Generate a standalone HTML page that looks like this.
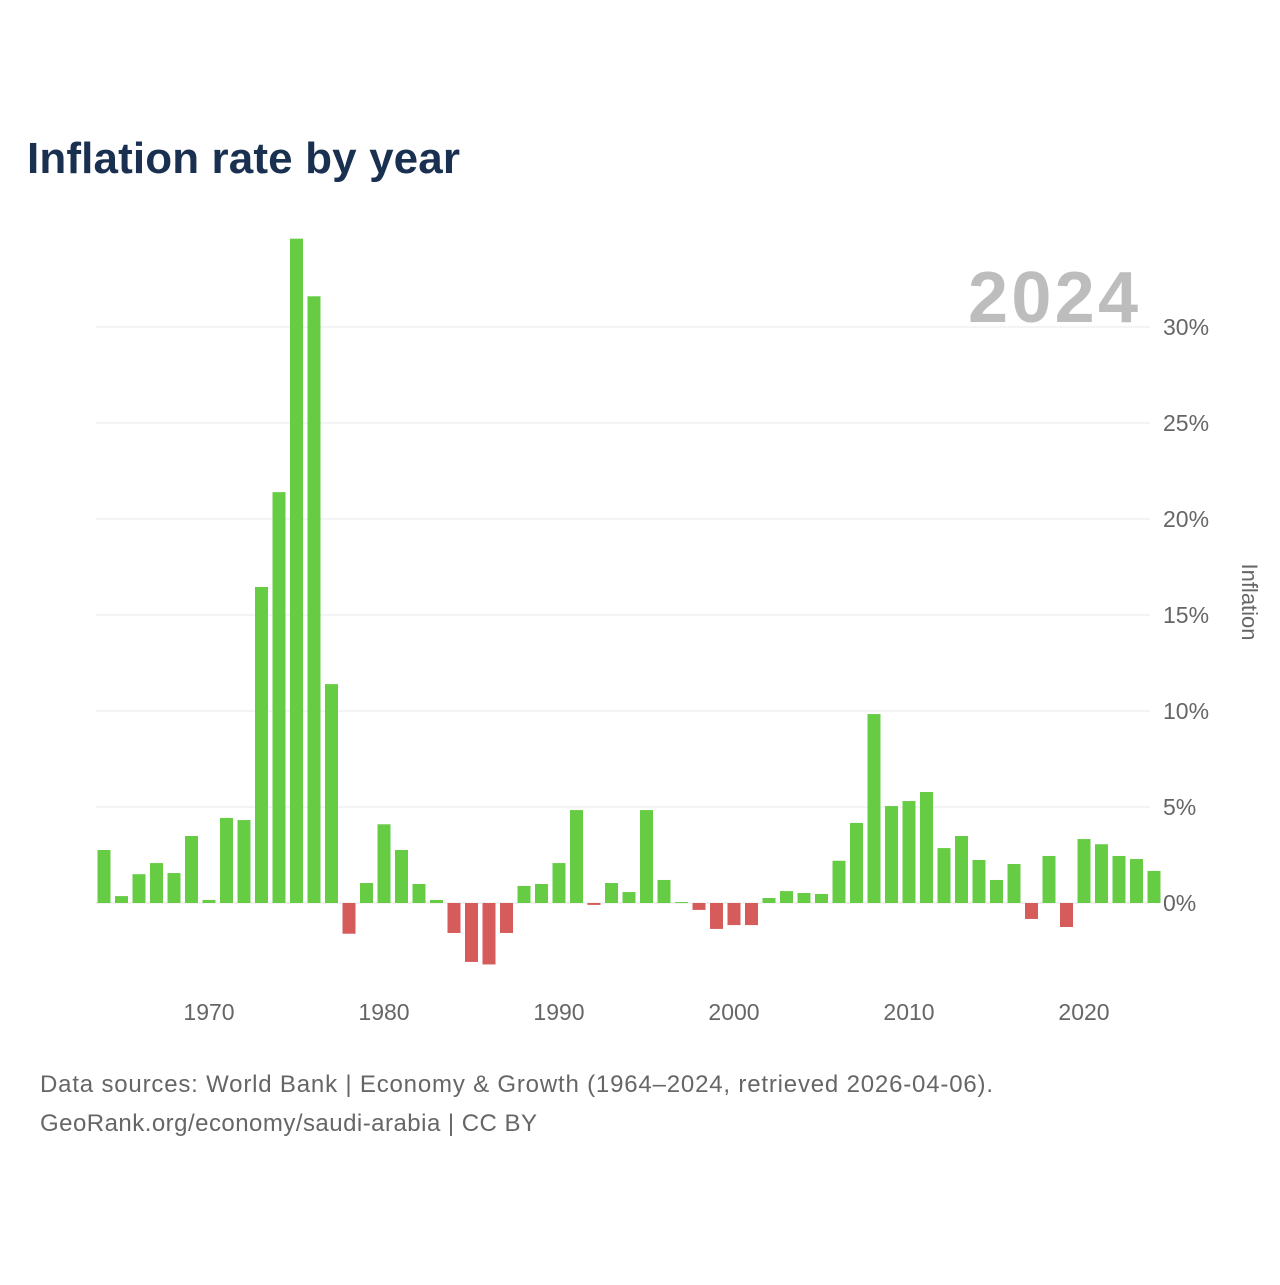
<!DOCTYPE html>
<html><head><meta charset="utf-8"><style>
body{margin:0;background:#fff;width:1280px;height:1280px;overflow:hidden;font-family:"Liberation Sans",sans-serif}
</style></head><body>
<svg width="1280" height="1280" xmlns="http://www.w3.org/2000/svg">
<text x="27" y="173" font-size="44" font-weight="bold" fill="#1a3050" textLength="433">Inflation rate by year</text>
<text x="968" y="322" font-size="72" font-weight="bold" fill="#bdbdbd" textLength="170">2024</text>
<g id="grid"></g><g id="bars"></g><g id="xt"></g>
<text transform="translate(1242,602) rotate(90)" font-size="22" fill="#666" text-anchor="middle">Inflation</text>
<text x="40" y="1092" font-size="24" fill="#666" textLength="953">Data sources: World Bank | Economy &amp; Growth (1964–2024, retrieved 2026-04-06).</text>
<text x="40" y="1131" font-size="24" fill="#666" textLength="497">GeoRank.org/economy/saudi-arabia | CC BY</text>
</svg>
<script>
const years=[];for(let y=1964;y<=2024;y++)years.push(y);
const values=[2.76,0.36,1.5,2.08,1.56,3.49,0.16,4.43,4.32,16.46,21.4,34.6,31.6,11.4,-1.6,1.04,4.1,2.76,0.99,0.16,-1.56,-3.07,-3.2,-1.56,0.89,0.99,2.08,4.84,-0.1,1.04,0.57,4.84,1.2,0.05,-0.36,-1.35,-1.15,-1.15,0.26,0.62,0.52,0.47,2.2,4.17,9.84,5.05,5.31,5.78,2.86,3.49,2.24,1.2,2.03,-0.83,2.45,-1.25,3.33,3.06,2.45,2.29,1.67];
const yTicks=[0,5,10,15,20,25,30];
const xTicks=[1970,1980,1990,2000,2010,2020];
const NS="http://www.w3.org/2000/svg";
const yS=v=>903-v*19.2;
const xS=y=>209+(y-1970)*17.5;
function mk(t,a,p){const e=document.createElementNS(NS,t);for(const k in a)e.setAttribute(k,a[k]);p.appendChild(e);return e;}
const g=document.getElementById('grid');
yTicks.forEach(v=>{
 const l=mk('line',{x1:96,x2:1150,y1:yS(v),y2:yS(v),stroke:'#e8e8e8','stroke-width':1},g);
 
 
 const t=mk('text',{x:1163,y:yS(v)+8,'font-size':23,fill:'#666'},g);t.textContent=v+'%';
 
 
});
const b=document.getElementById('bars');
years.forEach((y,i)=>{
 const v=values[i];const y0=yS(0),y1=yS(v);
 const r=mk('rect',{x:xS(y)-6.5,width:13,y:Math.min(y0,y1),height:Math.max(1,Math.abs(y1-y0)),fill:v>=0?'#66cc44':'#d65b5b'},b);
 
 
});
const xt=document.getElementById('xt');
xTicks.forEach(y=>{
 const t=mk('text',{x:xS(y),y:1020,'font-size':23,fill:'#666','text-anchor':'middle'},xt);t.textContent=y;
 
 
});
</script>
</body></html>
